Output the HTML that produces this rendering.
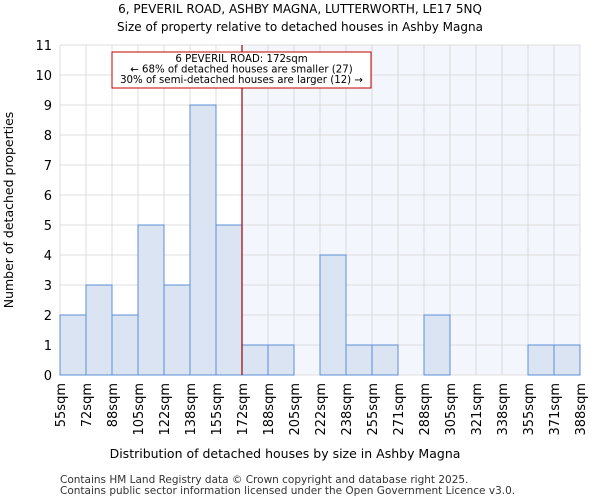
<!DOCTYPE html>
<html><head><meta charset="utf-8"><style>
body{margin:0;background:#fff;font-family:"DejaVu Sans","Liberation Sans",sans-serif;}
</style></head><body>
<svg id="c" width="600" height="500" xmlns="http://www.w3.org/2000/svg" font-family="DejaVu Sans, Liberation Sans, sans-serif">
<text x="300" y="13" text-anchor="middle" font-size="12">6, PEVERIL ROAD, ASHBY MAGNA, LUTTERWORTH, LE17 5NQ</text>
<text x="300" y="31" text-anchor="middle" font-size="12">Size of property relative to detached houses in Ashby Magna</text>
<g id="plot"></g>
<text x="285" y="458" text-anchor="middle" font-size="12.5">Distribution of detached houses by size in Ashby Magna</text>
<text transform="translate(13,210) rotate(-90)" text-anchor="middle" font-size="12.5">Number of detached properties</text>
<text x="60" y="483" font-size="10.5" fill="#333">Contains HM Land Registry data © Crown copyright and database right 2025.</text>
<text x="60" y="494" font-size="10.5" fill="#333">Contains public sector information licensed under the Open Government Licence v3.0.</text>
</svg>
<script>
const categories=["55sqm","72sqm","88sqm","105sqm","122sqm","138sqm","155sqm","172sqm","188sqm","205sqm","222sqm","238sqm","255sqm","271sqm","288sqm","305sqm","321sqm","338sqm","355sqm","371sqm","388sqm"];
const counts=[2,3,2,5,3,9,5,1,1,0,4,1,1,0,2,0,0,0,1,1];
const yTicks=[0,1,2,3,4,5,6,7,8,9,10,11];
const markerIndex=7;
const annotation=["6 PEVERIL ROAD: 172sqm","← 68% of detached houses are smaller (27)","30% of semi-detached houses are larger (12) →"];
const L=60,R=580,T=45,B=375,yMax=11;
const bw=(R-L)/counts.length;
const x=i=>L+i*bw, y=v=>B-(B-T)*v/yMax;
const NS="http://www.w3.org/2000/svg",g=document.getElementById('plot');
function mk(t,a){const e=document.createElementNS(NS,t);for(const k in a)e.setAttribute(k,a[k]);g.appendChild(e);return e;}
let e=mk('rect',{x:x(markerIndex),y:T,width:R-x(markerIndex),height:B-T,fill:'#f4f6fd'});


for(let i=0;i<=counts.length;i++){e=mk('line',{x1:x(i),x2:x(i),y1:T,y2:B,stroke:'#d4d4d4','stroke-width':0.8});

}
yTicks.forEach(v=>{e=mk('line',{x1:L,x2:R,y1:y(v),y2:y(v),stroke:'#d4d4d4','stroke-width':0.8});


e=mk('text',{x:L-8,y:y(v)+5,'text-anchor':'end','font-size':13});e.textContent=v;

});
counts.forEach((v,i)=>{if(v>0){e=mk('rect',{x:x(i),y:y(v),width:bw,height:B-y(v),fill:'#dae4f3',stroke:'#5b8fd6','stroke-width':1});

}});
categories.forEach((c,i)=>{const tx=x(i)+5;e=mk('text',{x:tx,y:383,'text-anchor':'end','font-size':13,transform:`rotate(-90 ${tx} 383)`});e.textContent=c;

});
e=mk('line',{x1:x(markerIndex),x2:x(markerIndex),y1:T,y2:B,stroke:'#a00000','stroke-width':1.2});


e=mk('rect',{x:112,y:52,width:259,height:36,fill:'#fff',stroke:'#c00000','stroke-width':1});


annotation.forEach((s,i)=>{e=mk('text',{x:241.5,y:62+i*10.5,'text-anchor':'middle','font-size':10.2});e.textContent=s;

});
</script>
</body></html>
